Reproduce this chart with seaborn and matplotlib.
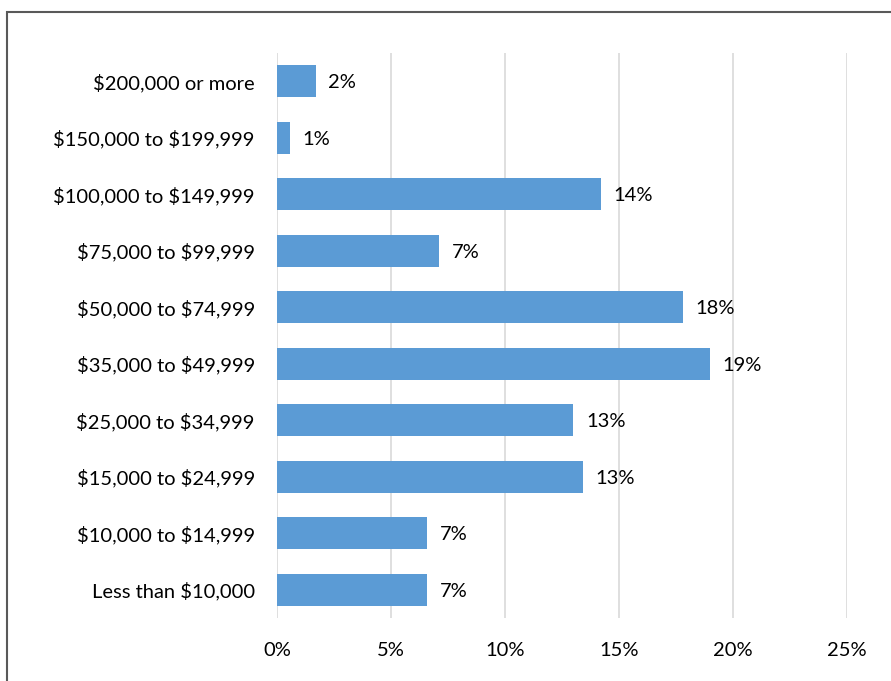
import matplotlib
matplotlib.use("Agg")
import matplotlib.pyplot as plt
from matplotlib.patches import Rectangle
import seaborn as sns
import pandas as pd

# Household income distribution (percent of households)
income_brackets = [
    "$200,000 or more",
    "$150,000 to $199,999",
    "$100,000 to $149,999",
    "$75,000 to $99,999",
    "$50,000 to $74,999",
    "$35,000 to $49,999",
    "$25,000 to $34,999",
    "$15,000 to $24,999",
    "$10,000 to $14,999",
    "Less than $10,000",
]
shares = [1.7, 0.55, 14.2, 7.1, 17.8, 19.0, 13.0, 13.4, 6.6, 6.6]
x_ticks = [0, 5, 10, 15, 20, 25]
x_tick_labels = ["0%", "5%", "10%", "15%", "20%", "25%"]

df = pd.DataFrame({"bracket": income_brackets, "share": shares})

sns.set_theme(style="white")
plt.rcParams["font.family"] = ["Lato", "DejaVu Sans"]
plt.rcParams["text.parse_math"] = False

fig = plt.figure(figsize=(8.91, 6.81), dpi=100)
ax = fig.add_axes([277 / 891, 1 - 618 / 681, 570 / 891, 565 / 681])

sns.barplot(data=df, y="bracket", x="share", order=income_brackets,
            color="#5B9BD5", saturation=1, width=0.57, linewidth=0, ax=ax)

ax.set_xlim(0, 25)
ax.set_ylim(len(income_brackets) - 0.5, -0.5)
ax.set_xticks(x_ticks)
ax.set_xticklabels(x_tick_labels)
ax.set_xlabel("")
ax.set_ylabel("")
ax.grid(axis="x", color="#D9D9D9", linewidth=1.2)
ax.set_axisbelow(True)
for s in ax.spines.values():
    s.set_visible(False)
ax.tick_params(axis="x", length=0, pad=17.5, labelsize=14.5, colors="#000000")
ax.tick_params(axis="y", length=0, pad=16, labelsize=14.5, colors="#000000")


def pct_label(v):
    return f"{int(v + 0.5)}%"


for container in ax.containers:
    texts = ax.bar_label(container, labels=[pct_label(v) for v in shares],
                         padding=9, fontsize=14.5, color="#000000")
    for t in texts:
        t.set_verticalalignment("center_baseline")

# chart frame
fig.patches.append(Rectangle((7 / 891, -0.1), 1.2, 1 - 12 / 681 + 0.1,
                             transform=fig.transFigure, fill=False,
                             edgecolor="#595959", linewidth=1.5))

fig.savefig("out.png", dpi=100, facecolor="white")
